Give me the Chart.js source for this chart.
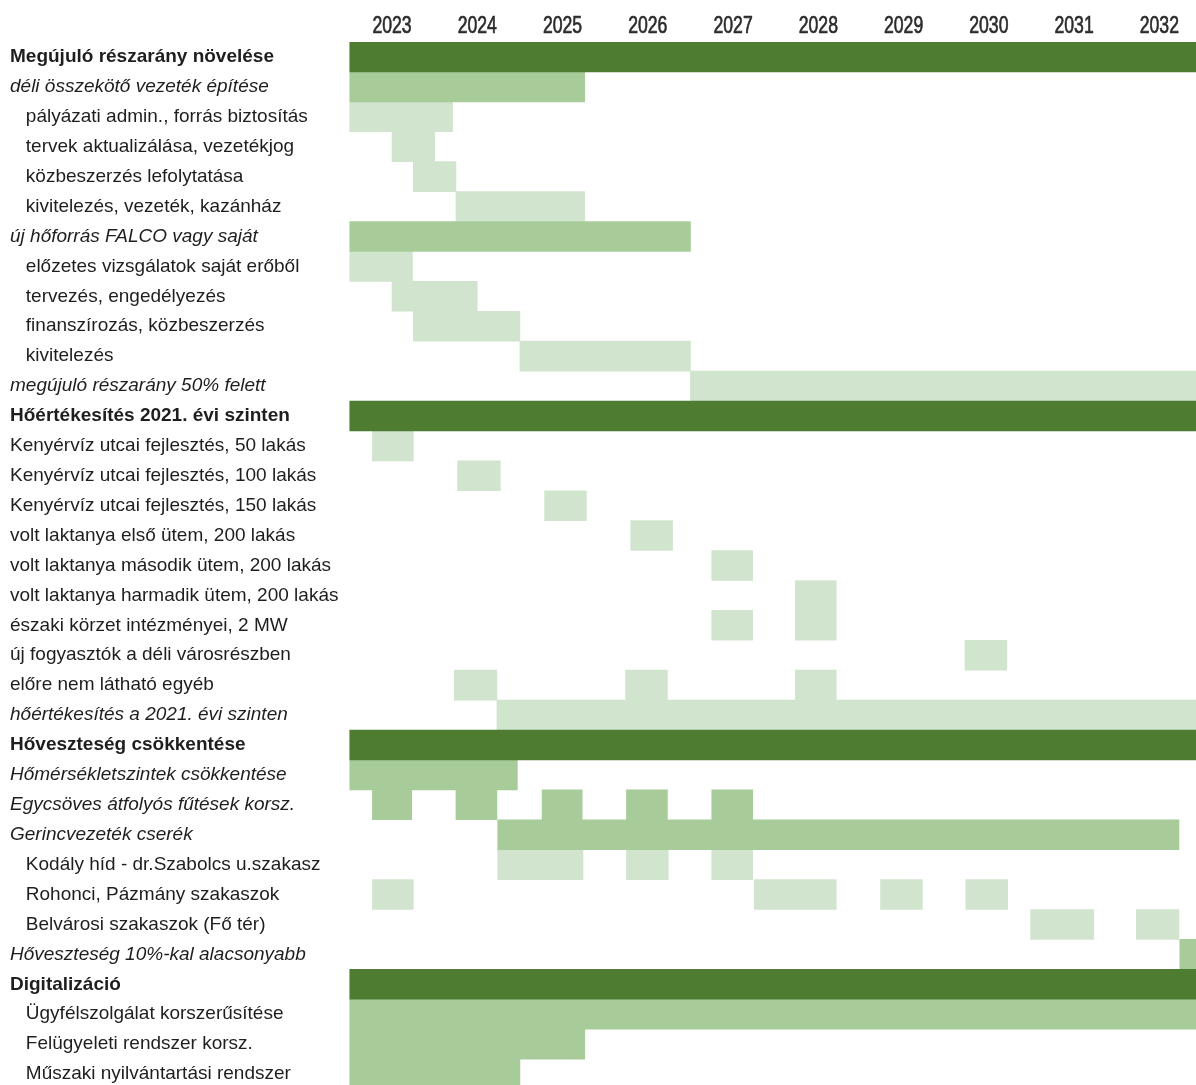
<!DOCTYPE html>
<html lang="hu">
<head>
<meta charset="UTF-8" />
<title>Ütemterv 2023-2032</title>
<script src="https://cdn.jsdelivr.net/npm/chart.js"></script>
<style>
  html, body {
    margin: 0;
    padding: 0;
    background: #ffffff;
    overflow: hidden;
  }
  .wrap {
    position: absolute;
    left: 0;
    top: 0;
    width: 1206px;
    height: 1090px;
  }
</style>
</head>
<body>

<div class="wrap"><canvas id="gantt"></canvas></div>

<script>
  // évek (oszlopok)
  const years = [2023, 2024, 2025, 2026, 2027, 2028, 2029, 2030, 2031, 2032];

  // sorok
  const rowLabels = [
    'Megújuló részarány növelése',
    'déli összekötő vezeték építése',
    'pályázati admin., forrás biztosítás',
    'tervek aktualizálása, vezetékjog',
    'közbeszerzés lefolytatása',
    'kivitelezés, vezeték, kazánház',
    'új hőforrás FALCO vagy saját',
    'előzetes vizsgálatok saját erőből',
    'tervezés, engedélyezés',
    'finanszírozás, közbeszerzés',
    'kivitelezés',
    'megújuló részarány 50% felett',
    'Hőértékesítés 2021. évi szinten',
    'Kenyérvíz utcai fejlesztés, 50 lakás',
    'Kenyérvíz utcai fejlesztés, 100 lakás',
    'Kenyérvíz utcai fejlesztés, 150 lakás',
    'volt laktanya első ütem, 200 lakás',
    'volt laktanya második ütem, 200 lakás',
    'volt laktanya harmadik ütem, 200 lakás',
    'északi körzet intézményei, 2 MW',
    'új fogyasztók a déli városrészben',
    'előre nem látható egyéb',
    'hőértékesítés a 2021. évi szinten',
    'Hőveszteség csökkentése',
    'Hőmérsékletszintek csökkentése',
    'Egycsöves átfolyós fűtések korsz.',
    'Gerincvezeték cserék',
    'Kodály híd - dr.Szabolcs u.szakasz',
    'Rohonci, Pázmány szakaszok',
    'Belvárosi szakaszok (Fő tér)',
    'Hőveszteség 10%-kal alacsonyabb',
    'Digitalizáció',
    'Ügyfélszolgálat korszerűsítése',
    'Felügyeleti rendszer korsz.',
    'Műszaki nyilvántartási rendszer'
  ];
  // b = félkövér, i = dőlt, n = normál, x = beljebb kezdve
  const rowStyles = [
    'b','i','x','x','x','x','i','x','x','x','x','i',
    'b','n','n','n','n','n','n','n','n','n','i',
    'b','i','i','i','x','x','x','i',
    'b','x','x','x'
  ];

  // szakaszok: [sor, kezdet, vég] években
  const darkBars = [
    [0, 2023.0, 2033], [12, 2023.0, 2033], [23, 2023.0, 2033], [31, 2023.0, 2033]
  ];
  const mediumBars = [
    [1, 2023.0, 2025.76], [6, 2023.0, 2027.0], [24, 2023.0, 2024.97],
    [25, 2023.27, 2023.73], [25, 2024.25, 2024.73], [25, 2025.26, 2025.73],
    [25, 2026.25, 2026.73], [25, 2027.25, 2027.73],
    [26, 2024.74, 2032.73], [30, 2032.74, 2033],
    [32, 2023.0, 2033], [33, 2023.0, 2025.76], [34, 2023.0, 2025.0]
  ];
  const lightBars = [
    [2, 2023.0, 2024.21], [3, 2023.5, 2024.0], [4, 2023.75, 2024.25], [5, 2024.25, 2025.76],
    [7, 2023.0, 2023.74], [8, 2023.5, 2024.5], [9, 2023.75, 2025.0], [10, 2025.0, 2027.0],
    [11, 2027.0, 2033],
    [13, 2023.27, 2023.75], [14, 2024.27, 2024.77], [15, 2025.29, 2025.78],
    [16, 2026.3, 2026.79], [17, 2027.25, 2027.73], [18, 2028.23, 2028.71],
    [19, 2027.25, 2027.73], [19, 2028.23, 2028.71], [20, 2030.22, 2030.71],
    [21, 2024.23, 2024.73], [21, 2026.24, 2026.73], [21, 2028.23, 2028.71],
    [22, 2024.73, 2033],
    [27, 2024.74, 2025.74], [27, 2026.25, 2026.74], [27, 2027.25, 2027.73],
    [28, 2023.27, 2023.75], [28, 2027.75, 2028.71], [28, 2029.23, 2029.72], [28, 2030.23, 2030.72],
    [29, 2030.99, 2031.73], [29, 2032.23, 2032.73]
  ];

  function toPoints(list) {
    return list.map(b => ({ y: rowLabels[b[0]], x: [b[1], b[2]] }));
  }

  function barSet(list, color) {
    return {
      data: toPoints(list),
      backgroundColor: color,
      borderWidth: 0,
      grouped: false,
      barPercentage: 1,
      categoryPercentage: 1
    };
  }

  const labelFont = 'Arial, "Liberation Sans", sans-serif';

  // évszámok: keskeny, magas betűkkel, a skála saját tick-pozícióira
  const yearLabels = {
    id: 'yearLabels',
    afterDraw(chart) {
      const sx = chart.scales.x;
      const ctx = chart.ctx;
      ctx.save();
      ctx.fillStyle = '#2b2b2b';
      ctx.strokeStyle = '#2b2b2b';
      ctx.lineWidth = 0.5;
      ctx.font = '18px "Liberation Sans", Arial, sans-serif';
      ctx.textAlign = 'center';
      ctx.textBaseline = 'alphabetic';
      sx.ticks.forEach(t => {
        const txt = String(Math.floor(t.value));
        ctx.save();
        ctx.translate(sx.getPixelForValue(t.value), 33);
        ctx.scale(0.98, 1.38);
        ctx.fillText(txt, 0, 0);
        ctx.strokeText(txt, 0, 0);
        ctx.restore();
      });
      ctx.restore();
    }
  };

  new Chart(document.getElementById('gantt'), {
    type: 'bar',
    data: {
      labels: rowLabels,
      datasets: [
        barSet(darkBars, '#4e7d31'),
        barSet(mediumBars, '#a7cb99'),
        barSet(lightBars, '#d0e4ce')
      ]
    },
    options: {
      indexAxis: 'y',
      responsive: true,
      maintainAspectRatio: false,
      animation: false,
      layout: { padding: { left: 10, right: 4, top: 0, bottom: 1 } },
      plugins: {
        legend: { display: false },
        tooltip: { enabled: false }
      },
      scales: {
        x: {
          type: 'linear',
          position: 'top',
          min: 2023,
          max: 2033,
          grid: { display: false, drawTicks: false },
          border: { display: false },
          afterBuildTicks: (scale) => {
            scale.ticks = years.map(y => ({ value: y + 0.5 }));
          },
          afterFit: (scale) => { scale.height = 42; },
          ticks: { display: false }
        },
        y: {
          type: 'category',
          grid: { display: false, drawTicks: false },
          border: { display: false },
          afterFit: (scale) => {
            scale.width = 339.4;
            scale.paddingTop = 0;
            scale.paddingBottom = 0;
          },
          ticks: {
            autoSkip: false,
            crossAlign: 'far',
            padding: 0,
            color: '#1e1e1e',
            font: (ctx) => {
              const s = rowStyles[ctx.index];
              return {
                family: labelFont,
                size: 19,
                weight: s === 'b' ? 'bold' : 'normal',
                style: s === 'i' ? 'italic' : 'normal'
              };
            },
            callback: (v, i) => (rowStyles[i] === 'x' ? '   ' : '') + rowLabels[i]
          }
        }
      }
    },
    plugins: [yearLabels]
  });
</script>

</body>
</html>
